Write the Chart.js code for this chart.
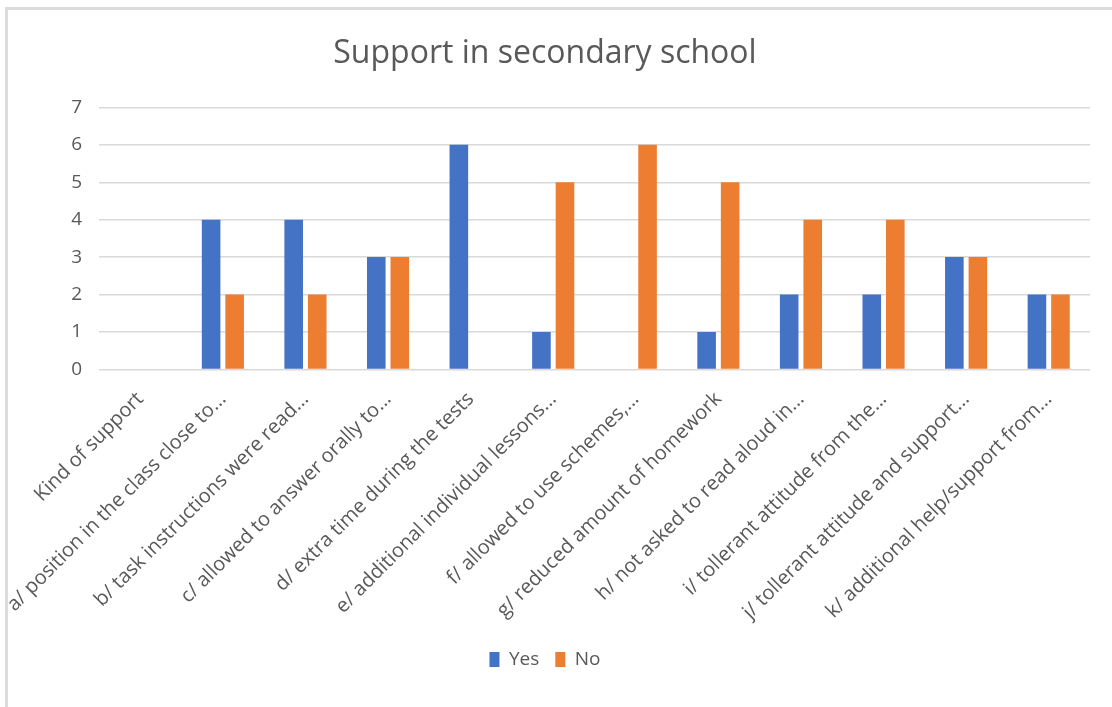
<!DOCTYPE html>
<html lang="en">

<head>
    <meta charset="UTF-8">
    <meta name="viewport" content="width=device-width, initial-scale=1.0">
    <script src="https://cdn.jsdelivr.net/npm/chart.js"></script>
    <title>Support in secondary school</title>
    <style>
        html, body {
            margin: 0;
            padding: 0;
            background: #fff;
        }

        .moldura {
            position: relative;
            width: 1112px;
            height: 707px;
            overflow: hidden;
        }

        .borda {
            position: absolute;
            left: 5px;
            top: 7px;
            width: 1200px;
            height: 800px;
            border-left: 3px solid #dcdcdc;
            border-top: 3px solid #dcdcdc;
        }

        .grafico {
            position: absolute;
            left: 0;
            top: 0;
            width: 1112px;
            height: 707px;
        }
    </style>
</head>

<body>
    <div class="moldura">
        <div class="borda"></div>
        <div class="grafico">
            <canvas id="apoio_escola"></canvas>
        </div>
    </div>
</body>

</html>
<script>
    // categorias do questionario (texto cortado como aparece no eixo)
    var categorias = [
        'Kind of support',
        'a/ position in the class close to...',
        'b/ task instructions were read...',
        'c/ allowed to answer orally to...',
        'd/ extra time during the tests',
        'e/ additional individual lessons...',
        'f/ allowed to use schemes,...',
        'g/ reduced amount of homework',
        'h/ not asked to read aloud in...',
        'i/ tollerant attitude from the...',
        'j/ tollerant attitude and support...',
        'k/ additional help/support from...'
    ];
    var respostasSim = [null, 4, 4, 3, 6, 1, null, 1, 2, 2, 3, 2];
    var respostasNao = [null, 2, 2, 3, null, 5, 6, 5, 4, 4, 3, 2];
    var ticksY = [0, 1, 2, 3, 4, 5, 6, 7];

    var cinza = '#595959';

    const grafico = {
        type: 'bar',
        data: {
            labels: categorias,
            datasets: [
                {
                    label: 'Yes',
                    data: respostasSim,
                    backgroundColor: '#4472C4',
                    categoryPercentage: 0.57,
                    barPercentage: 0.79
                },
                {
                    label: 'No',
                    data: respostasNao,
                    backgroundColor: '#ED7D31',
                    categoryPercentage: 0.57,
                    barPercentage: 0.79
                }
            ]
        },
        options: {
            responsive: true,
            maintainAspectRatio: false,
            animation: false,
            layout: {
                padding: { left: 0, right: 22, top: 35, bottom: 28 }
            },
            plugins: {
                title: {
                    display: true,
                    text: 'Support in secondary school',
                    color: cinza,
                    font: { family: 'Open Sans', size: 32, weight: 'normal' },
                    padding: { top: 0, bottom: 34 }
                },
                legend: {
                    position: 'bottom',
                    labels: {
                        color: cinza,
                        font: { family: 'Open Sans', size: 19 },
                        boxWidth: 10,
                        boxHeight: 15,
                        padding: 16
                    }
                },
                tooltip: { enabled: false }
            },
            scales: {
                x: {
                    grid: { display: false },
                    border: { display: false },
                    ticks: {
                        color: cinza,
                        font: { family: 'Open Sans', size: 20 },
                        minRotation: 45,
                        maxRotation: 45,
                        autoSkip: false,
                        padding: 10
                    }
                },
                y: {
                    min: 0,
                    max: 7,
                    afterBuildTicks: function (eixo) {
                        eixo.ticks = ticksY.map(function (v) { return { value: v }; });
                    },
                    afterFit: function (eixo) {
                        eixo.width = 99;
                    },
                    grid: {
                        color: '#d9d9d9',
                        lineWidth: 1.5,
                        drawTicks: false
                    },
                    border: { display: false },
                    ticks: {
                        color: cinza,
                        font: { family: 'Open Sans', size: 19 },
                        padding: 17
                    }
                }
            }
        }
    };

    var analise = new Chart(document.getElementById('apoio_escola'), grafico);
</script>
